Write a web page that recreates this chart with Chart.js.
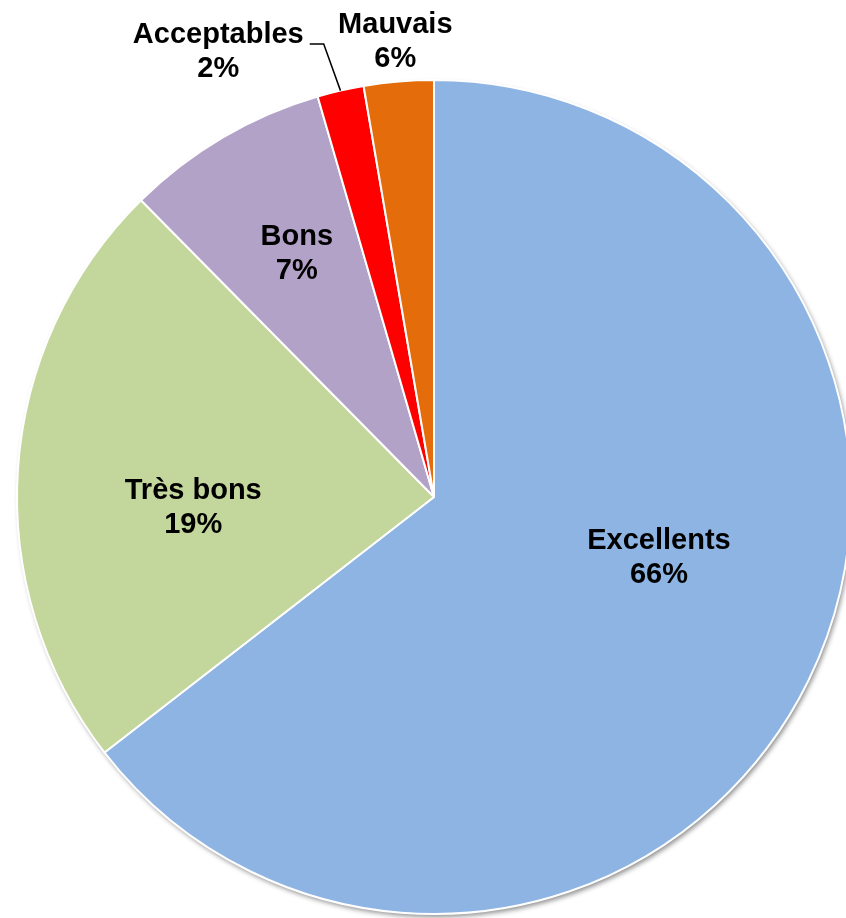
<!DOCTYPE html>
<html>
<head>
<meta charset="utf-8">
<script src="https://cdn.jsdelivr.net/npm/chart.js@4/dist/chart.umd.min.js"></script>
<style>
  html, body { margin: 0; padding: 0; background: #fff; overflow: hidden; }
  #wrap { position: absolute; left: 0; top: 0; width: 868px; height: 994px; }
</style>
</head>
<body>
<div id="wrap"><canvas id="myChart" width="868" height="994"></canvas></div>
<script>
// categories et valeurs
const categories = ['Excellents', 'Très bons', 'Bons', 'Acceptables', 'Mauvais'];
const valeurs = [64.5, 23.1, 7.9, 1.8, 2.7];
const pourcentages = ['66%', '19%', '7%', '2%', '6%'];
const couleurs = ['#8EB4E3', '#C3D69B', '#B3A2C7', '#FF0000', '#E46C0A'];

// placement des etiquettes : fraction du rayon + decalage d'angle (degres)
const etiqRayon = [0.559, 0.578, 0.67, 1.186, 1.095];
const etiqAngle = [-10.9, -6.4, 1, -12.9, 0];

// ombre sous le camembert
const ombre = {
    id: 'ombre',
    beforeDatasetsDraw(chart) {
        const arc = chart.getDatasetMeta(0).data[0];
        if (!arc) return;
        const ctx = chart.ctx;
        ctx.save();
        ctx.shadowColor = 'rgba(0,0,0,0.45)';
        ctx.shadowBlur = 5;
        ctx.shadowOffsetX = 2;
        ctx.shadowOffsetY = 3;
        ctx.beginPath();
        ctx.arc(arc.x, arc.y, arc.outerRadius, 0, Math.PI * 2);
        ctx.fillStyle = '#fff';
        ctx.fill();
        ctx.restore();
    }
};

// etiquettes
const etiquettes = {
    id: 'etiquettes',
    afterDatasetsDraw(chart) {
        const ctx = chart.ctx;
        const arcs = chart.getDatasetMeta(0).data;
        ctx.save();
        ctx.font = 'bold 29px "Liberation Sans", Arial, sans-serif';
        ctx.fillStyle = '#000';
        ctx.textAlign = 'center';
        ctx.textBaseline = 'middle';
        arcs.forEach(function (arc, i) {
            const mid = (arc.startAngle + arc.endAngle) / 2;
            const a = mid + etiqAngle[i] * Math.PI / 180;
            const r = arc.outerRadius * etiqRayon[i];
            const x = arc.x + Math.cos(a) * r;
            const y = arc.y + Math.sin(a) * r;
            ctx.fillText(categories[i], x, y - 17);
            ctx.fillText(pourcentages[i], x, y + 17);

            // trait de rappel pour la petite part
            if (i === 3) {
                const w = ctx.measureText(categories[i]).width;
                const ex = arc.x + Math.cos(mid) * arc.outerRadius;
                const ey = arc.y + Math.sin(mid) * arc.outerRadius;
                ctx.beginPath();
                ctx.strokeStyle = '#000';
                ctx.lineWidth = 1.5;
                ctx.moveTo(x + w / 2 + 6, y - 8);
                ctx.lineTo(x + w / 2 + 20, y - 8);
                ctx.lineTo(ex, ey);
                ctx.stroke();
            }
        });
        ctx.restore();
    }
};

const ctx = document.getElementById('myChart');
const graphique = new Chart(ctx.getContext('2d'), {
    type: 'pie',
    data: {
        labels: categories,
        datasets: [{
            data: valeurs,
            backgroundColor: couleurs,
            borderColor: '#fff',
            borderWidth: 2
        }]
    },
    options: {
        responsive: false,
        animation: false,
        devicePixelRatio: 1,
        layout: { padding: { left: 16, right: 16, top: 79, bottom: 79 } },
        plugins: {
            legend: { display: false },
            tooltip: { enabled: false }
        }
    },
    plugins: [ombre, etiquettes]
});
</script>
</body>
</html>
